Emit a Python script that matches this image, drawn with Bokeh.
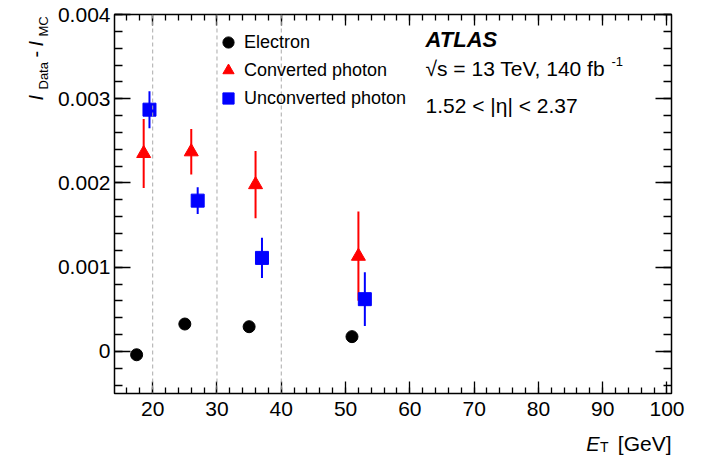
import numpy as np
from bokeh.plotting import figure
from bokeh.layouts import row, column
from bokeh.models import (Range1d, FixedTicker, LinearAxis, Span, Label, Legend, LegendItem,
                          CustomJSTickFormatter)
from bokeh.embed import file_html
from bokeh.resources import INLINE

# ---- data ----
et_e = [17.5, 25.0, 35.0, 51.0]
d_e = [-0.00004, 0.000325, 0.000293, 0.000175]
err_e = [0.00002, 0.00002, 0.00002, 0.00002]

et_c = [18.6, 26.0, 36.0, 52.0]
d_c = [0.00235, 0.00237, 0.00198, 0.00113]
err_c = [0.00041, 0.00027, 0.00040, 0.00053]

et_u = [19.5, 27.0, 37.0, 53.0]
d_u = [0.00287, 0.00179, 0.00111, 0.00062]
err_u = [0.00022, 0.00016, 0.00024, 0.00032]

x_ticks = [20, 30, 40, 50, 60, 70, 80, 90, 100]
y_ticks = [0.0, 0.001, 0.002, 0.003, 0.004]
bin_edges = [20, 30, 40]

FONT = "Liberation Sans"
TOTAL_W = 694
YW = 50
TOP, BOT = 14, 36
MAIN_H = 429
XH = 26

p = figure(width=TOTAL_W - YW, height=MAIN_H, output_backend="svg", toolbar_location=None,
           x_range=Range1d(14.06, 100.7), y_range=Range1d(-0.0005, 0.004),
           min_border_left=64, min_border_right=23, min_border_top=TOP, min_border_bottom=BOT,
           x_axis_type=None, y_axis_type=None)
p.xgrid.visible = False
p.ygrid.visible = False
p.outline_line_color = "black"
p.outline_line_width = 1.5
p.background_fill_color = "white"
p.border_fill_color = "white"

xt = FixedTicker(ticks=x_ticks, minor_ticks=list(np.arange(16, 101, 2)))
yt = FixedTicker(ticks=y_ticks, minor_ticks=list(np.round(np.arange(-0.0004, 0.00401, 0.0002), 6)))
yfmt = CustomJSTickFormatter(code="return Math.abs(tick) < 1e-9 ? '0' : tick.toFixed(3);")
nofmt = CustomJSTickFormatter(code="return '';")

def style(ax, major, minor, labels):
    ax.axis_line_color = None
    ax.major_tick_out = 0
    ax.minor_tick_out = 0
    ax.major_tick_in = major
    ax.minor_tick_in = minor
    ax.major_tick_line_color = "black"
    ax.minor_tick_line_color = "black"
    ax.major_tick_line_width = 1.3
    ax.minor_tick_line_width = 1.3
    if labels:
        ax.major_label_text_font = FONT
        ax.major_label_text_font_size = "21px"
        ax.major_label_text_color = "black"
    else:
        ax.formatter = nofmt
        ax.major_label_text_font_size = "1px"
        ax.major_label_standoff = 0

bx = LinearAxis(ticker=xt)
style(bx, 12, 6, True)
bx.major_label_standoff = 8
p.add_layout(bx, "below")
tx = LinearAxis(ticker=xt)
style(tx, 11, 6, False)
p.add_layout(tx, "above")
ly = LinearAxis(ticker=yt, formatter=yfmt)
style(ly, 16, 8, True)
ly.major_label_standoff = 4
p.add_layout(ly, "left")
ry = LinearAxis(ticker=yt)
style(ry, 16, 8, False)
p.add_layout(ry, "right")

for e in bin_edges:
    p.add_layout(Span(location=e, dimension="height", line_color="#aaaaaa",
                      line_dash="4 3", line_width=1))

def ebar(x, y, err, color):
    y0 = [a - b for a, b in zip(y, err)]
    y1 = [a + b for a, b in zip(y, err)]
    p.segment(x0=x, y0=y0, x1=x, y1=y1, line_color=color, line_width=2)

ebar(et_e, d_e, err_e, "black")
ebar(et_c, d_c, err_c, "#ff0000")
ebar(et_u, d_u, err_u, "#0000ff")

r_e = p.scatter(et_e, d_e, marker="circle", size=12, color="black")
r_c = p.scatter(et_c, d_c, marker="triangle", size=14, color="#ff0000")
r_u = p.scatter(et_u, d_u, marker="square", size=13, color="#0000ff")

leg = Legend(items=[LegendItem(label="Electron", renderers=[r_e]),
                    LegendItem(label="Converted photon", renderers=[r_c]),
                    LegendItem(label="Unconverted photon", renderers=[r_u])],
             location=(98, 281))
leg.background_fill_alpha = 0
leg.border_line_alpha = 0
leg.padding = 0
leg.margin = 0
leg.glyph_width = 32
leg.glyph_height = 28
leg.label_height = 28
leg.spacing = 0
leg.label_standoff = 0
leg.label_text_font = FONT
leg.label_text_font_size = "18px"
leg.label_text_color = "black"
leg.label_text_baseline = "middle"
p.add_layout(leg)

def lab(fig, text, x, y, size, style="normal", angle=0.0, align="left"):
    fig.add_layout(Label(x=x, y=y, x_units="screen", y_units="screen", text=text,
                         text_font=FONT, text_font_size=f"{size}px", text_font_style=style,
                         text_color="black", text_align=align, text_baseline="alphabetic",
                         angle=angle))

# horizontal labels: frame bottom at page y=393; small baseline correction of 0.3*size
FB = 393
def hlab(fig, text, x, base_page_y, size, style="normal", align="left", bottom=FB):
    lab(fig, text, x, bottom - base_page_y + 0.3 * size, size, style, 0.0, align)

hlab(p, "ATLAS", 311, 46, 22, "bold italic")
hlab(p, "√s = 13 TeV, 140 fb", 311, 74, 21)
hlab(p, "-1", 497, 65, 13)
hlab(p, "1.52 < |η| < 2.37", 311, 111.5, 21)

# y-axis title panel (frame bottom aligned with the main frame)
yfig = figure(width=YW, height=MAIN_H, output_backend="svg", toolbar_location=None,
              x_axis_type=None, y_axis_type=None, min_border_left=0, min_border_right=0,
              min_border_top=0, min_border_bottom=BOT,
              x_range=Range1d(0, 1), y_range=Range1d(0, 1))
yfig.outline_line_color = None
yfig.xgrid.visible = False
yfig.ygrid.visible = False
a = np.pi / 2
def vlab(text, base_x, start_page_y, size, style="normal"):
    lab(yfig, text, base_x - 0.3 * size, FB - start_page_y, size, style, a)

vlab("I", 41, 100, 20, "italic")
vlab("Data", 47, 89, 13)
vlab("-", 41, 57, 20)
vlab("I", 41, 46, 20, "italic")
vlab("MC", 47, 36, 13)

# x-axis title panel (page y from 429 to 455)
xfig = figure(width=TOTAL_W, height=XH, output_backend="svg", toolbar_location=None,
              x_axis_type=None, y_axis_type=None, min_border=0,
              x_range=Range1d(0, 1), y_range=Range1d(0, 1))
xfig.outline_line_color = None
xfig.xgrid.visible = False
xfig.ygrid.visible = False
XB = MAIN_H + XH
hlab(xfig, "[GeV]", 671, 449, 21, align="right", bottom=XB)
hlab(xfig, "T", 608, 451, 14, align="right", bottom=XB)
hlab(xfig, "E", 599, 449, 20, "italic", align="right", bottom=XB)

layout = column(row(yfig, p, spacing=0), xfig, spacing=0)
open("out.html", "w").write(file_html(layout, INLINE))
